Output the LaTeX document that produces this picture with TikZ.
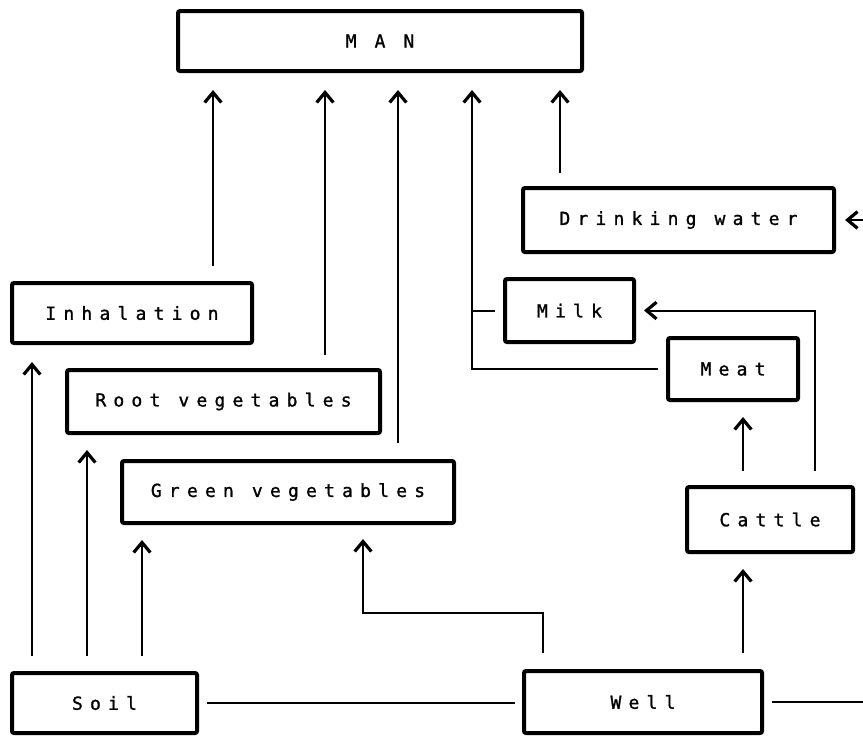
\documentclass[tikz,border=0pt]{standalone}
\usepackage{fontspec}
\newfontfamily\plotfont[LetterSpace=40,FakeBold=1.2]{DejaVu Sans Mono}
\usetikzlibrary{arrows.meta}
\begin{document}
\begin{tikzpicture}[x=0.75pt,y=-0.75pt,
  box/.style={draw,line width=3pt,rounded corners=1.5pt,inner sep=0pt,
    font=\plotfont\fontsize{13.5pt}{16pt}\selectfont},
  conn/.style={line width=1.5pt},
  arr/.style={conn,-{Straight Barb[length=7.5pt,width=12.5pt,line width=2.4pt]}}]
\useasboundingbox (0,0) rectangle (863,736);

% boxes
\node[box,minimum width=303pt,minimum height=45pt] (man) at (380,41) {M A N};
\node[box,minimum width=233.25pt,minimum height=48pt] (dw) at (678.5,220) {Drinking water};
\node[box,minimum width=180pt,minimum height=45pt] (inh) at (132,313) {Inhalation};
\node[box,minimum width=96.75pt,minimum height=47.25pt] (milk) at (569.5,310.5) {Milk};
\node[box,minimum width=97.5pt,minimum height=46.5pt] (meat) at (733,369) {Meat};
\node[box,minimum width=234.75pt,minimum height=47.25pt] (root) at (223.5,401.5) {Root vegetables};
\node[box,minimum width=249pt,minimum height=46.5pt] (green) at (288,492) {Green vegetables};
\node[box,minimum width=124.5pt,minimum height=48.75pt] (cattle) at (770,519.5) {Cattle};
\node[box,minimum width=138.75pt,minimum height=45pt] (soil) at (104.5,703) {Soil};
\node[box,minimum width=178.5pt,minimum height=46.5pt] (well) at (643,702) {Well};

% helper coordinates
\coordinate (xa) at (213,0);
\coordinate (xb) at (325,0);
\coordinate (xc) at (398,0);
\coordinate (xd) at (472,0);
\coordinate (xe) at (560,0);
\coordinate (xs1) at (32,0);
\coordinate (xs2) at (87,0);
\coordinate (xs3) at (142,0);
\coordinate (xcat) at (743,0);
\coordinate (xmk) at (815,0);
\coordinate (bend1) at (543,613);
\coordinate (bend2) at (363,613);
\coordinate (dwin) at (863,220);
\coordinate (wellout) at (863,702);

% into MAN
\draw[arr,shorten <=11.25pt,shorten >=12.75pt] (inh.north -| xa) -- (man.south -| xa);
\draw[arr,shorten <=9.75pt,shorten >=12.75pt] (root.north -| xb) -- (man.south -| xb);
\draw[arr,shorten <=12pt,shorten >=12.75pt] (green.north -| xc) -- (man.south -| xc);
\draw[arr,shorten <=6pt,shorten >=12.75pt] (meat.west) -- (meat.west -| xd) -- (man.south -| xd);
\draw[conn,shorten <=6pt] (milk.west) -- (milk.west -| xd);
\draw[arr,shorten <=9.75pt,shorten >=12.75pt] (dw.north -| xe) -- (man.south -| xe);
\draw[arr,shorten >=6.75pt] (dwin) -- (dw.east);

% from Soil
\draw[arr,shorten <=11.25pt,shorten >=12.75pt] (soil.north -| xs1) -- (inh.south -| xs1);
\draw[arr,shorten <=11.25pt,shorten >=11.25pt] (soil.north -| xs2) -- (root.south -| xs2);
\draw[arr,shorten <=11.25pt,shorten >=11.25pt] (soil.north -| xs3) -- (green.south -| xs3);
\draw[conn,shorten <=6pt,shorten >=5.25pt] (soil.east) -- (soil.east -| well.west);

% from Well
\draw[arr,shorten <=12pt,shorten >=10.5pt] (well.north -| bend1) -- (bend1) -- (bend2) -- (green.south -| bend2);
\draw[arr,shorten <=12pt,shorten >=11.25pt] (well.north -| xcat) -- (cattle.south -| xcat);
\draw[conn,shorten <=6pt] (well.east) -- (wellout);

% from Cattle
\draw[arr,shorten <=10.5pt,shorten >=11.25pt] (cattle.north -| xcat) -- (meat.south -| xcat);
\draw[arr,shorten <=10.5pt,shorten >=6pt] (cattle.north -| xmk) -- (milk.east -| xmk) -- (milk.east);
\end{tikzpicture}
\end{document}
